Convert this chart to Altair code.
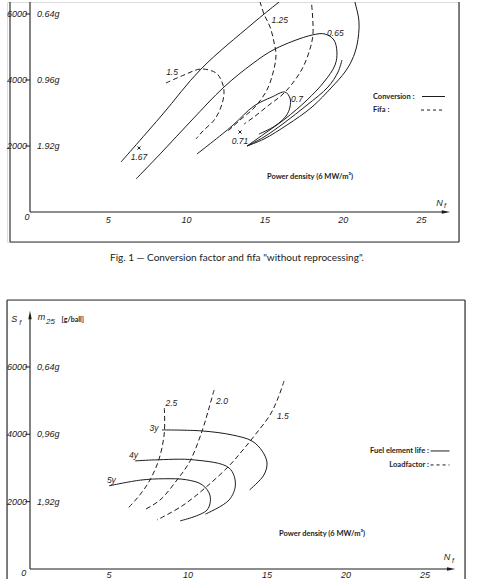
import altair as alt
import pandas as pd

# ---------------- Fig. 1 : conversion factor (solid) and fifa (dashed) ----------------
conv_outer_N = [5.81, 8.43, 10.92, 14.18, 15.90, 17.37, 19.28, 20.43, 20.75, 21.01, 20.88, 20.56, 20.11, 19.28, 18.01, 16.41, 14.94, 13.86]
conv_outer_S = [1515, 2939, 4333, 5696, 6363, 6908, 7211, 6969, 6363, 5757, 5060, 4606, 4242, 3788, 3182, 2636, 2212, 2000]
conv_065_N = [6.77, 8.43, 10.34, 12.39, 14.18, 15.64, 18.01, 18.84, 19.41, 19.60, 19.48, 18.77, 17.69, 16.28, 14.94, 13.86]
conv_065_S = [1000, 1818, 2788, 3788, 4484, 4939, 5363, 5393, 5212, 4848, 4454, 3939, 3394, 2818, 2363, 2000]
conv_mid_N = [19.92, 19.67, 19.03, 17.69, 16.22, 14.94, 13.86]
conv_mid_S = [4606, 4242, 3788, 3242, 2697, 2273, 2000]
conv_07_N = [10.66, 12.90, 14.30, 15.45, 16.28, 16.60, 16.60, 16.35, 15.64, 14.62]
conv_07_S = [1757, 2606, 3212, 3485, 3636, 3454, 3182, 2909, 2606, 2363]

fifa_15_N = [8.68, 9.83, 10.92, 11.88, 12.26, 12.39, 12.26, 11.81, 10.98, 10.60]
fifa_15_S = [3909, 4151, 4333, 4212, 3939, 3636, 3272, 2818, 2424, 2212]
fifa_125_N = [14.50, 14.69, 14.94, 15.33, 15.58, 15.71, 15.58, 15.13, 14.30, 13.41, 12.58]
fifa_125_S = [6605, 6363, 5999, 5606, 5151, 4787, 4333, 3697, 3151, 2788, 2424]
fifa_top_N = [17.94, 18.07, 17.82, 17.37, 16.73, 16.09, 15.26, 14.30, 13.67]
fifa_top_S = [6515, 5393, 4848, 4333, 3878, 3545, 3242, 2879, 2666]

f1_curve_labels = ["1.5", "1.25", "0.65", "0.7"]
f1_curve_label_N = [9.07, 15.95, 19.5, 17.05]
f1_curve_label_S = [4242, 5818, 5424, 3424]
f1_points_label = ["1.67", "0.71"]
f1_points_N = [6.96, 13.41]
f1_points_S = [1939, 2424]

# ---------------- Fig. 2 : fuel element life (solid) and loadfactor (dashed) ----------------
life_3_N = [8.35, 10.9, 12.8, 14.05, 14.7, 15.0, 14.8, 13.9]
life_3_S = [4130, 4100, 3980, 3800, 3500, 3150, 2790, 2350]
life_4_N = [6.65, 7.9, 10.4, 12.6, 13.0, 12.6, 11.1]
life_4_S = [3210, 3240, 3240, 3000, 2520, 2050, 1630]
life_5_N = [5.0, 7.0, 8.5, 9.9, 10.9, 11.4, 11.2, 9.5]
life_5_S = [2470, 2640, 2680, 2650, 2500, 2170, 1750, 1430]

load_25_N = [8.5, 8.5, 8.15, 7.55, 6.9, 6.15]
load_25_S = [4780, 4040, 3240, 2610, 2170, 1780]
load_20_N = [11.65, 11.33, 10.89, 10.13, 9.30, 8.23, 7.22]
load_20_S = [5316, 4782, 4099, 3208, 2643, 2049, 1752]
load_15_N = [16.08, 15.7, 15.19, 14.24, 13.42, 12.59, 11.08, 9.62, 8.04]
load_15_S = [5584, 5079, 4574, 3980, 3505, 3059, 2406, 1871, 1455]

f2_curve_labels = ["2.5", "2.0", "1.5", "3y", "4y", "5y"]
f2_curve_label_N = [8.95, 12.15, 16.0, 7.85, 6.55, 5.15]
f2_curve_label_S = [4930, 4990, 4544, 4180, 3380, 2630]

# ---------------- axis labels ----------------
x_ticks = [5, 10, 15, 20, 25]
y_ticks = [2000, 4000, 6000]
y_ticks_txt = ["2000", "4000", "6000"]
m25_fig1 = ["1.92g", "0.96g", "0.64g"]
m25_fig2 = ["1,92g", "0,96g", "0,64g"]

INK = "#1c1c1c"
NUMF = "Liberation Sans"
TXTF = "Lato"


def curves_df(named):
    rows = []
    for name, (ns, ss) in named.items():
        for i, (n, s) in enumerate(zip(ns, ss)):
            rows.append({"curve": name, "i": i, "N": n, "S": s})
    return pd.DataFrame(rows)


def txt(df, X, Y, **kw):
    base = dict(color=INK)
    base.update(kw)
    return alt.Chart(df).mark_text(**base).encode(x=X(), y=Y(), text="t:N")


def build(fig, xs, ys, w, h, solid, dashed, frame, ytop, arrowN, m25, tick_S, zero_lbl, nf, legend, pdens, clabels, plabels, yarrow):
    X = lambda f="N": alt.X(f"{f}:Q", scale=xs, axis=None)
    Y = lambda f="S": alt.Y(f"{f}:Q", scale=ys, axis=None)
    dummy = pd.DataFrame({"a": [0]})
    layers = []
    layers.append(alt.Chart(curves_df(solid)).mark_line(
        interpolate="catmull-rom", color=INK, strokeWidth=1, clip=True
    ).encode(x=X(), y=Y(), detail="curve:N", order="i:Q"))
    layers.append(alt.Chart(curves_df(dashed)).mark_line(
        interpolate="catmull-rom", color=INK, strokeWidth=1, strokeDash=[5, 3], clip=True
    ).encode(x=X(), y=Y(), detail="curve:N", order="i:Q"))
    # frame
    fx0, fx1, fy0, fy1 = frame
    layers.append(alt.Chart(dummy).mark_rule(color="#333", strokeWidth=1.2).encode(
        x=alt.value(fx0), y=alt.value(fy0), y2=alt.value(fy1)))
    layers.append(alt.Chart(dummy).mark_rule(color="#333", strokeWidth=1.2).encode(
        x=alt.value(fx1), y=alt.value(fy0), y2=alt.value(fy1)))
    layers.append(alt.Chart(dummy).mark_rule(color="#333", strokeWidth=1.2).encode(
        x=alt.value(fx0), x2=alt.value(fx1), y=alt.value(fy1)))
    if fig == 2:
        layers.append(alt.Chart(dummy).mark_rule(color="#333", strokeWidth=1.2).encode(
            x=alt.value(fx0), x2=alt.value(fx1), y=alt.value(fy0)))
    # axes lines
    ax = pd.DataFrame({"N": [0], "N2": [arrowN], "S": [0], "S2": [ytop]})
    layers.append(alt.Chart(ax).mark_rule(color=INK, strokeWidth=1.1, clip=True).encode(
        x=X(), x2="N2:Q", y=Y()))
    layers.append(alt.Chart(ax).mark_rule(color=INK, strokeWidth=1.1, clip=True).encode(
        x=X(), y=Y(), y2="S2:Q"))
    arr = pd.DataFrame({"N": [arrowN], "S": [0]})
    layers.append(alt.Chart(arr).mark_point(
        shape="M-1,-0.4L1,0L-1,0.4Z", filled=True, size=70, color=INK, opacity=1
    ).encode(x=X(), y=Y()))
    if yarrow is not None:
        arr2 = pd.DataFrame({"N": [0], "S": [yarrow]})
        layers.append(alt.Chart(arr2).mark_point(
            shape="M-0.4,1L0,-1L0.4,1Z", filled=True, size=70, color=INK, opacity=1
        ).encode(x=X(), y=Y()))
    # y ticks
    tk = pd.DataFrame({"N": [-0.3] * len(y_ticks), "N2": [0] * len(y_ticks), "S": y_ticks})
    layers.append(alt.Chart(tk).mark_rule(color=INK, strokeWidth=1).encode(x=X(), x2="N2:Q", y=Y()))
    # tick labels
    yl = pd.DataFrame({"N": [0] * 3, "S": y_ticks, "t": y_ticks_txt})
    layers.append(txt(yl, X, Y, align="right", baseline="middle", dx=-3, font=NUMF, fontStyle="italic", fontSize=9))
    ml = pd.DataFrame({"N": [0] * 3, "S": y_ticks, "t": m25})
    layers.append(txt(ml, X, Y, align="left", baseline="middle", dx=7, font=NUMF, fontStyle="italic", fontSize=9))
    xl = pd.DataFrame({"N": x_ticks, "S": [tick_S] * 5, "t": [str(v) for v in x_ticks]})
    layers.append(txt(xl, X, Y, align="center", baseline="middle", font=NUMF, fontStyle="italic", fontSize=9))
    zl = pd.DataFrame({"N": [zero_lbl[0]], "S": [zero_lbl[1]], "t": ["0"]})
    layers.append(txt(zl, X, Y, align="center", baseline="middle", font=NUMF, fontStyle="italic", fontSize=9))
    # N_f
    nN = pd.DataFrame({"N": [nf[0]], "S": [nf[1]], "t": ["N"]})
    layers.append(txt(nN, X, Y, align="center", baseline="middle", font=NUMF, fontStyle="italic", fontSize=9))
    nF = pd.DataFrame({"N": [nf[2]], "S": [nf[3]], "t": ["f"]})
    layers.append(txt(nF, X, Y, align="center", baseline="middle", font=NUMF, fontStyle="italic", fontSize=7))
    # legend
    for lab, n, s, align, n1, n2, dash in legend:
        d = pd.DataFrame({"N": [n], "S": [s], "t": [lab]})
        layers.append(txt(d, X, Y, align=align, baseline="middle", font=TXTF, fontWeight="bold", fontSize=7.5))
        ld = pd.DataFrame({"N": [n1], "N2": [n2], "S": [s]})
        kw = dict(color=INK, strokeWidth=1)
        if dash:
            kw["strokeDash"] = [3, 3]
        layers.append(alt.Chart(ld).mark_rule(**kw).encode(x=X(), x2="N2:Q", y=Y()))
    pd_df = pd.DataFrame({"N": [pdens[0]], "S": [pdens[1]], "t": ["Power density (6 MW/m³)"]})
    layers.append(txt(pd_df, X, Y, align="left", baseline="middle", font=TXTF, fontWeight="bold", fontSize=7.5))
    # curve labels
    cl = pd.DataFrame({"N": clabels[1], "S": clabels[2], "t": clabels[0]})
    layers.append(txt(cl, X, Y, align="center", baseline="middle", font=NUMF, fontStyle="italic", fontSize=8.5))
    if plabels is not None:
        pp = pd.DataFrame({"N": plabels[1], "S": plabels[2], "t": plabels[0]})
        layers.append(alt.Chart(pp).mark_point(
            shape="M-1,-1L1,1M-1,1L1,-1", size=10, color=INK, strokeWidth=1, opacity=1
        ).encode(x=X(), y=Y()))
        layers.append(txt(pp, X, Y, align="center", baseline="top", dy=5, font=NUMF, fontStyle="italic", fontSize=8.5))
    return alt.layer(*layers).properties(width=w, height=h)


# ---------- top panel ----------
xs1 = alt.Scale(domain=[-1.469, 27.395], nice=False, zero=False)
ys1 = alt.Scale(domain=[-909, 6364], nice=False, zero=False)
top = build(
    1, xs1, ys1, 452, 240,
    {"outer": (conv_outer_N, conv_outer_S), "0.65": (conv_065_N, conv_065_S),
     "mid": (conv_mid_N, conv_mid_S), "0.7": (conv_07_N, conv_07_S)},
    {"1.5": (fifa_15_N, fifa_15_S), "1.25": (fifa_125_N, fifa_125_S), "top": (fifa_top_N, fifa_top_S)},
    (3, 452, 0, 240), 6364, 26.56, m25_fig1, -242, (-0.19, -152),
    (26.15, 270, 26.5, 170),
    [("Conversion :", 21.9, 3500, "left", 25.03, 26.5, False),
     ("Fifa :", 21.9, 3090, "left", 24.97, 26.44, True)],
    (15.13, 1060),
    (f1_curve_labels, f1_curve_label_N, f1_curve_label_S),
    (f1_points_label, f1_points_N, f1_points_S),
    None,
).properties(title=alt.Title(
    'Fig. 1 — Conversion factor and fifa "without reprocessing".',
    orient="bottom", offset=10, font=TXTF, fontSize=10, fontWeight="normal",
    color="#222", anchor="middle", dx=4))

# ---------- bottom panel ----------
xs2 = alt.Scale(domain=[-1.456, 27.53], nice=False, zero=False)
ys2 = alt.Scale(domain=[-624, 7989], nice=False, zero=False)
bottom_core = build(
    2, xs2, ys2, 458, 290,
    {"3y": (life_3_N, life_3_S), "4y": (life_4_N, life_4_S), "5y": (life_5_N, life_5_S)},
    {"2.5": (load_25_N, load_25_S), "2.0": (load_20_N, load_20_S), "1.5": (load_15_N, load_15_S)},
    (0, 458, 0, 290), 7540, 26.65, m25_fig2, -165, (-0.4, -110),
    (26.39, 360, 26.77, 240),
    [("Fuel element life :", 25.25, 3505, "right", 25.35, 26.55, False),
     ("Loadfactor :", 25.25, 3090, "right", 25.35, 26.55, True)],
    (15.76, 1040),
    (f2_curve_labels, f2_curve_label_N, f2_curve_label_S),
    None,
    7544,
)

# y-axis title of Fig. 2
X2 = lambda f="N": alt.X(f"{f}:Q", scale=xs2, axis=None)
Y2 = lambda f="S": alt.Y(f"{f}:Q", scale=ys2, axis=None)
ytitle_layers = [
    txt(pd.DataFrame({"N": [-1.0], "S": [7420], "t": ["S"]}), X2, Y2, align="center", baseline="middle",
        font=NUMF, fontStyle="italic", fontSize=9),
    txt(pd.DataFrame({"N": [-0.62], "S": [7320], "t": ["f"]}), X2, Y2, align="center", baseline="middle",
        font=NUMF, fontStyle="italic", fontSize=7),
    txt(pd.DataFrame({"N": [0.72], "S": [7480], "t": ["m"]}), X2, Y2, align="center", baseline="middle",
        font=NUMF, fontStyle="italic", fontSize=9),
    txt(pd.DataFrame({"N": [1.3], "S": [7330], "t": ["25"]}), X2, Y2, align="center", baseline="middle",
        font=NUMF, fontStyle="italic", fontSize=8),
    txt(pd.DataFrame({"N": [2.0], "S": [7400], "t": ["[g/ball]"]}), X2, Y2, align="left", baseline="middle",
        font=TXTF, fontWeight="bold", fontSize=7),
]
bottom = alt.layer(bottom_core, *ytitle_layers).properties(width=458, height=290)

chart = alt.vconcat(top, bottom, spacing=34).properties(
    padding={"left": 5, "top": 0, "right": 0, "bottom": 0}
).configure_view(stroke=None).configure(background="white")

chart.save("out.html", embed_options={"renderer": "svg", "actions": False})
